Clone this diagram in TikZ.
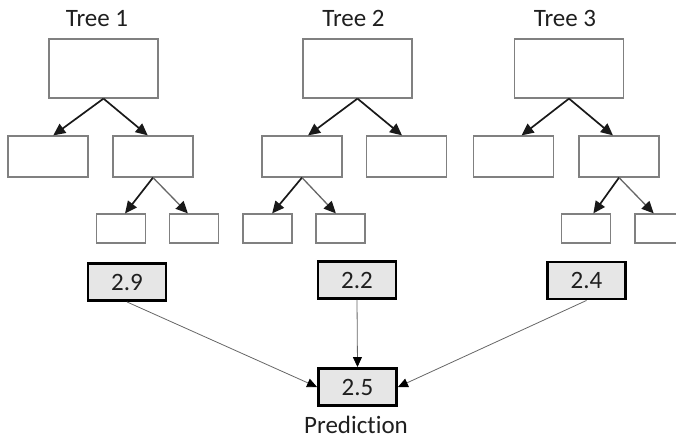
\documentclass[tikz,border=0pt]{standalone}
\usepackage{fontspec}
\setmainfont{Carlito}[Ligatures=NoCommon]
\usetikzlibrary{arrows.meta}
\definecolor{boxgray}{HTML}{808080}
\definecolor{valfill}{HTML}{E6E6E6}
\definecolor{thinline}{HTML}{666666}
\begin{document}
\begin{tikzpicture}[x=1pt,y=-1pt,
  every node/.style={font=\fontsize{25}{29}\selectfont, text=black!88},
  treebox/.style={draw=boxgray, line width=1.2pt, fill=white, inner sep=0pt},
  rootbox/.style={treebox, minimum width=109pt, minimum height=59pt},
  midbox/.style={treebox, minimum width=80pt, minimum height=41pt},
  leafbox/.style={treebox, minimum width=49pt, minimum height=29pt},
  valbox/.style={draw=black, line width=2.9pt, fill=valfill, inner sep=0pt, minimum width=78pt, minimum height=37pt},
  treearrow/.style={draw=black!90, line width=1.7pt, -{Triangle[length=12pt,width=11pt]}},
  treearrowlight/.style={draw=black!60, line width=1.3pt, -{Triangle[length=12pt,width=11pt,color=black!90]}},
  predarrow/.style={draw=thinline, line width=0.8pt, -{Triangle[length=10pt,width=9pt,color=black]}}
]
\useasboundingbox (0,0) rectangle (676,439);
\clip (0,0) rectangle (676,439);

% titles
\node[anchor=base] (t1) at (97,26) {Tree 1};
\node[anchor=base] (t2) at (353.5,26) {Tree 2};
\node[anchor=base] (t3) at (565,26) {Tree 3};

% Tree 1
\node[rootbox] (r1) at (103.5,68.5) {};
\node[midbox] (l1) at (48,156.5) {};
\node[midbox] (m1) at (153,156.5) {};
\node[leafbox] (a1) at (121,228.5) {};
\node[leafbox] (b1) at (194,228.5) {};
\draw[treearrow] (r1.south) -- (l1.76);
\draw[treearrow] (r1.south) -- (m1.104);
\draw[treearrow] (m1.south) -- (a1.75);
\draw[treearrowlight] (m1.south) -- (b1.112);

% Tree 2
\node[rootbox] (r2) at (357.5,68.5) {};
\node[midbox] (l2) at (302,156.5) {};
\node[midbox] (m2) at (406.5,156.5) {};
\node[leafbox] (a2) at (267.5,228.5) {};
\node[leafbox] (b2) at (340.5,228.5) {};
\draw[treearrow] (r2.south) -- (l2.74);
\draw[treearrow] (r2.south) -- (m2.102);
\draw[treearrow] (l2.south) -- (a2.73);
\draw[treearrowlight] (l2.south) -- (b2.107);

% Tree 3
\node[rootbox] (r3) at (569,68.5) {};
\node[midbox] (l3) at (513.5,156.5) {};
\node[midbox] (m3) at (619,156.5) {};
\node[leafbox] (a3) at (586,228.5) {};
\node[leafbox] (b3) at (659.5,228.5) {};
\draw[treearrow] (r3.south) -- (l3.69);
\draw[treearrow] (r3.south) -- (m3.106);
\draw[treearrow] (m3.south) -- (a3.64);
\draw[treearrowlight] (m3.south) -- (b3.111);

% values
\node[valbox] (v1) at (127,282) {2.9};
\node[valbox] (v2) at (357,280) {2.2};
\node[valbox] (v3) at (586.5,280.5) {2.4};
\node[valbox] (p) at (357.5,387) {2.5};
\node[anchor=base] (plabel) at (356,433) {Prediction};

\draw[predarrow] (v1.south) -- (p.west);
\draw[predarrow] (v2.south) -- (p.north);
\draw[predarrow] (v3.south) -- (p.east);
\end{tikzpicture}
\end{document}
